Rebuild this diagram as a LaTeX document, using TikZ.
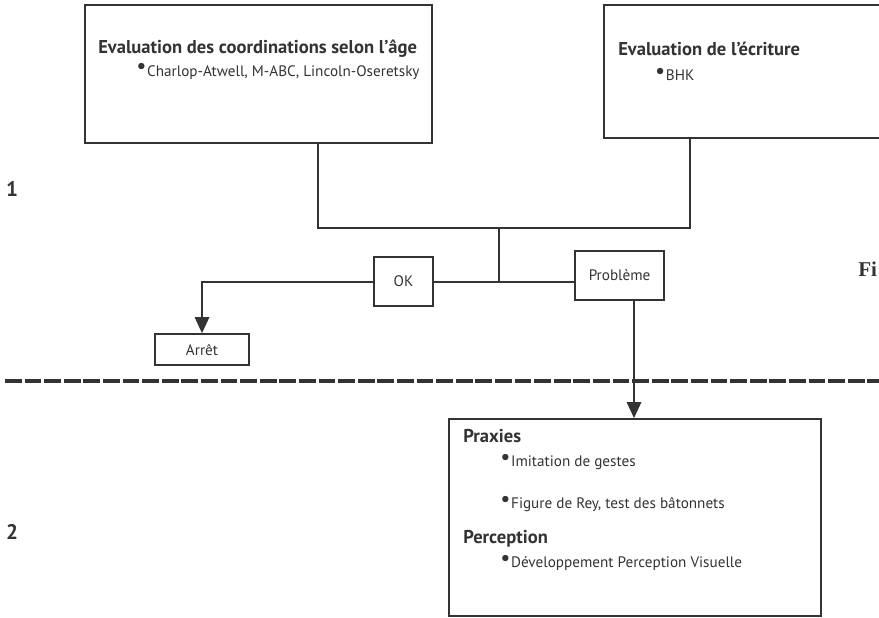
\documentclass[tikz,border=0pt]{standalone}
\usepackage{fontspec}
\setmainfont{PT Sans}
\newfontfamily\figfont{Liberation Serif}
\usetikzlibrary{arrows.meta}
\definecolor{inkgray}{HTML}{333333}
\newcommand{\pointe}{\raisebox{0.3ex}[0pt][0pt]{\fontsize{16}{16}\selectfont\textbullet}\kern0.5pt}

\begin{document}
\begin{tikzpicture}[
    font=\fontsize{10.8}{12}\selectfont, text=inkgray,
    boite/.style={draw=inkgray,line width=1.3pt,inner sep=0pt},
    trait/.style={draw=inkgray,line width=1.3pt},
    fleche/.style={trait,-{Triangle[width=0.36cm,length=0.4cm]}},
    titre/.style={anchor=west,inner sep=0pt,font=\fontsize{13.2}{14}\selectfont\bfseries},
    ligne/.style={anchor=west,inner sep=0pt},
    etape/.style={inner sep=0pt,font=\fontsize{15}{17}\selectfont\bfseries}
  ]
  \useasboundingbox (0,0) rectangle (21.975,15.45);

  % niveau 1
  \node[boite,minimum width=8.675cm,minimum height=3.45cm] (coord) at (6.4625,13.6) {};
  \node[boite,minimum width=7.4cm,minimum height=3.325cm] (ecrit) at (18.8,13.6625) {};
  \node[titre] (coordtitre) at (2.45,14.24) {Evaluation des coordinations selon l'âge};
  \node[ligne] (coordtests) at (3.4,13.64) {\pointe Charlop-Atwell, M-ABC, Lincoln-Oseretsky};
  \node[titre] (ecrittitre) at (15.45,14.22) {Evaluation de l'écriture};
  \node[ligne] (ecrittests) at (16.37,13.56) {\pointe BHK};

  \coordinate (j1) at (7.95,9.75);
  \coordinate (j2) at (17.25,9.75);
  \coordinate (jm) at (12.475,9.75);
  \draw[trait] (j1 |- coord.south) -- (j1) -- (j2) -- (j2 |- ecrit.south);

  \node[boite,minimum width=1.475cm,minimum height=1.225cm] (ok) at (10.0875,8.41) {OK};
  \node[boite,minimum width=2.225cm,minimum height=1.225cm] (prob) at (15.49,8.56) {Problème};
  \node[boite,minimum width=2.35cm,minimum height=0.775cm] (arret) at (5.05,6.71) {Arrêt};

  \draw[trait] (jm) -- (jm |- ok.east);
  \draw[trait] (ok.east) -- (ok.east -| prob.west);
  \draw[fleche] (ok.west) -| (arret.north);

  % separation
  \coordinate (sepg) at (0.125,5.925);
  \coordinate (sepd) at (22.2,5.925);
  \draw[draw=inkgray,line width=2.2pt,dash pattern=on 0.42cm off 0.07cm] (sepg) -- (sepd);

  % niveau 2
  \node[boite,minimum width=9.3cm,minimum height=4.925cm] (prax) at (15.875,2.5125) {};
  \draw[fleche] ([xshift=0.36cm]prob.south) -- ([xshift=0.36cm]prob.south |- prax.north);
  \node[titre] (praxtitre) at (11.575,4.56) {Praxies};
  \node[ligne] (praxun) at (12.5,3.88) {\pointe Imitation de gestes};
  \node[ligne] (praxdeux) at (12.5,2.83) {\pointe Figure de Rey, test des bâtonnets};
  \node[titre] (perctitre) at (11.575,1.99) {Perception};
  \node[ligne] (percun) at (12.5,1.35) {\pointe Développement Perception Visuelle};

  \node[etape] (un) at (0.3,10.72) {1};
  \node[etape] (deux) at (0.3,2.15) {2};
  \node[anchor=west,inner sep=0pt,font=\figfont\fontsize{15}{17}\selectfont\bfseries] (fig) at (21.45,8.72) {Fi};
\end{tikzpicture}
\end{document}
